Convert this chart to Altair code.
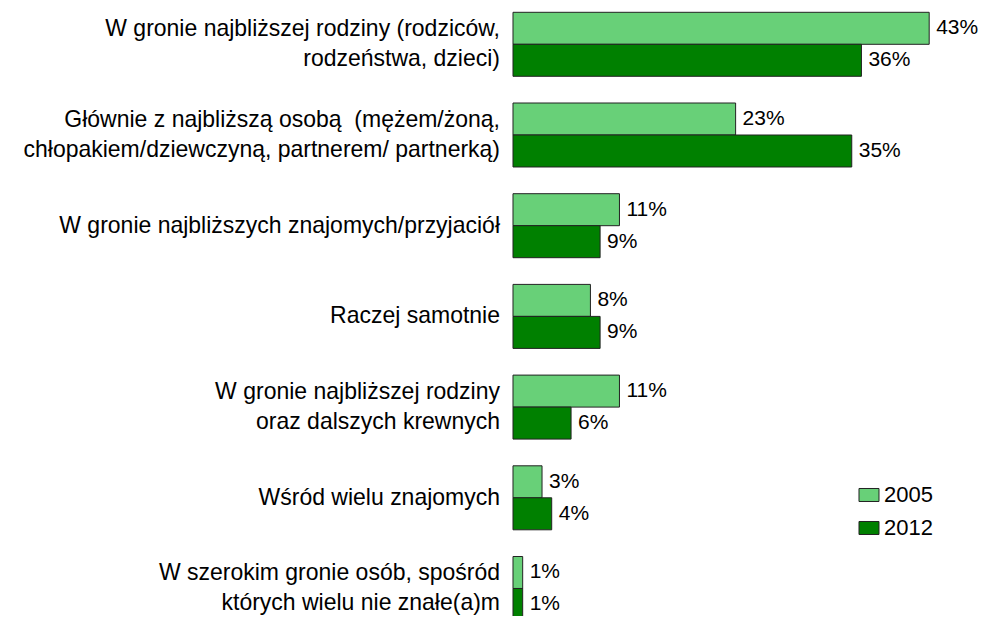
import altair as alt
import pandas as pd

categories = [
    "W gronie najbliższej rodziny (rodziców,\nrodzeństwa, dzieci)",
    "Głównie z najbliższą osobą\u00a0 (mężem/żoną,\nchłopakiem/dziewczyną, partnerem/ partnerką)",
    "W gronie najbliższych znajomych/przyjaciół",
    "Raczej samotnie",
    "W gronie najbliższej rodziny\noraz dalszych krewnych",
    "Wśród wielu znajomych",
    "W szerokim gronie osób, spośród\nktórych wielu nie znałe(a)m",
]
years = ["2005", "2012"]
values_2005 = [43, 23, 11, 8, 11, 3, 1]
values_2012 = [36, 35, 9, 9, 6, 4, 1]
labels_2005 = ["43%", "23%", "11%", "8%", "11%", "3%", "1%"]
labels_2012 = ["36%", "35%", "9%", "9%", "6%", "4%", "1%"]

rows = []
for c, v, l in zip(categories, values_2005, labels_2005):
    rows.append({"cat": c, "year": "2005", "value": v, "label": l})
for c, v, l in zip(categories, values_2012, labels_2012):
    rows.append({"cat": c, "year": "2012", "value": v, "label": l})
df = pd.DataFrame(rows)
cat_df = pd.DataFrame({"cat": categories})
cat_df["two"] = cat_df["cat"].str.contains("\n")

FONT = "Liberation Sans"
FS = 23
FS_PCT = 21

y_enc = alt.Y("cat:N", sort=categories, axis=None,
              scale=alt.Scale(range=[4.3, 612.5], paddingInner=0.2944, paddingOuter=0))
yoff = alt.YOffset("year:N", sort=years, scale=alt.Scale(paddingInner=0, paddingOuter=0))
x_enc = alt.X("value:Q", axis=None, scale=alt.Scale(domain=[0, 48], nice=False, zero=True))

bars = alt.Chart(df).mark_bar(stroke="#222222", strokeWidth=1, cornerRadius=0).encode(
    x=x_enc,
    y=y_enc,
    yOffset=yoff,
    color=alt.Color("year:N", sort=years,
                    scale=alt.Scale(domain=years, range=["#68D078", "#008000"]),
                    legend=alt.Legend(
                        orient="none", legendX=345, legendY=476, title=None,
                        symbolType="M-1,-0.65H1V0.65H-1Z", symbolSize=400,
                        symbolStrokeColor="#222222", symbolStrokeWidth=1,
                        symbolOpacity=1,
                        labelFont=FONT, labelFontSize=22, labelColor="#000000",
                        labelOffset=4, rowPadding=11)),
)

pct = alt.Chart(df).mark_text(align="left", baseline="middle", dx=7,
                              font=FONT, fontSize=FS_PCT, color="#000000").encode(
    x=x_enc,
    y=y_enc,
    yOffset=yoff,
    text="label:N",
)

one_line = alt.Chart(cat_df).transform_filter("!datum.two").mark_text(
    align="right", baseline="middle", font=FONT, fontSize=FS, color="#000000"
).encode(x=alt.value(-13), y=y_enc, text="cat:N")

two_line = alt.Chart(cat_df).transform_filter("datum.two").mark_text(
    align="right", baseline="middle", lineBreak="\n", lineHeight=30, dy=-15,
    font=FONT, fontSize=FS, color="#000000"
).encode(x=alt.value(-13), y=y_enc, text="cat:N")

chart = alt.layer(bars, pct, one_line, two_line).properties(
    width=464.6, height=608,
    autosize=alt.AutoSizeParams(type="none"),
    padding={"left": 505, "top": 0, "right": 0, "bottom": 0},
).configure_view(stroke=None)

chart.save("out.html", embed_options={"renderer": "svg", "actions": False})
